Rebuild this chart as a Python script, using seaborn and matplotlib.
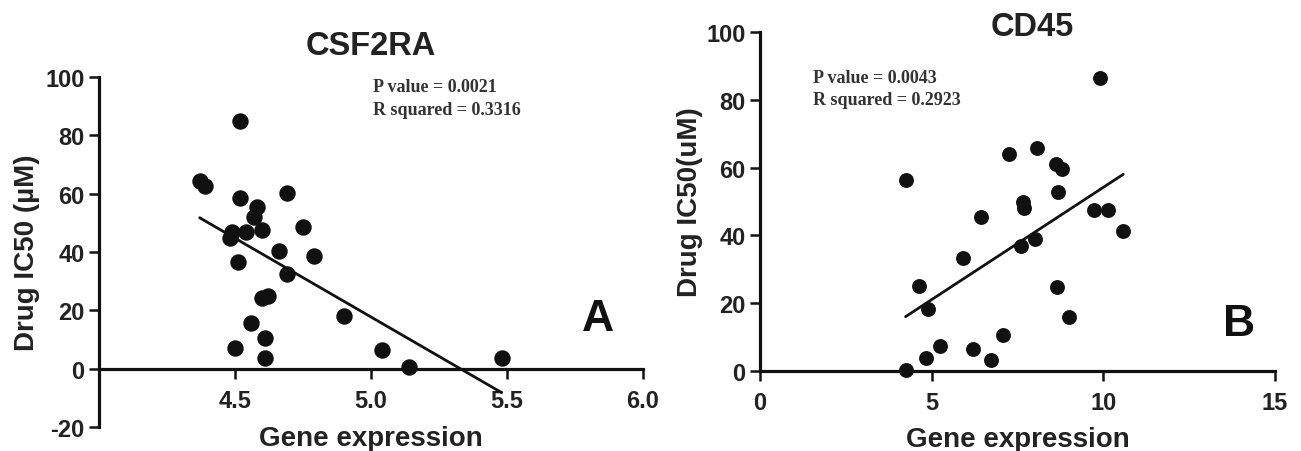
import numpy as np
import pandas as pd
import matplotlib
matplotlib.use("Agg")
import matplotlib.pyplot as plt
import seaborn as sns

# ================================
# DATA
# ================================

# Panel A: CSF2RA expression vs drug IC50
csf_x = [4.52, 4.37, 4.39, 4.52, 4.69, 4.58, 4.57, 4.75, 4.49, 4.54, 4.60, 4.48, 4.66,
         4.79, 4.51, 4.69, 4.60, 4.62, 4.56, 4.90, 4.61, 4.50, 4.61, 5.04, 5.14, 5.48]
csf_y = [85.0, 64.5, 62.8, 58.6, 60.2, 55.4, 51.9, 48.7, 47.0, 46.8, 47.4, 44.7, 40.5,
         38.5, 36.5, 32.5, 24.3, 24.8, 15.6, 17.9, 10.5, 7.1, 3.7, 6.5, 0.5, 3.5]

# Panel B: CD45 expression vs drug IC50
cd_x = [9.90, 4.26, 7.25, 8.06, 8.62, 8.80, 8.67, 7.65, 7.69, 6.43, 9.74, 10.15, 10.58,
        8.01, 7.61, 5.91, 4.63, 8.64, 4.89, 9.01, 7.07, 5.23, 6.20, 4.83, 6.74, 4.24]
cd_y = [86.4, 56.3, 63.9, 65.7, 61.1, 59.6, 52.7, 49.8, 48.2, 45.3, 47.5, 47.5, 41.3,
        38.9, 37.0, 33.2, 25.0, 24.7, 18.3, 16.0, 10.7, 7.3, 6.5, 3.8, 3.3, 0.3]

csf_xticks = [4.5, 5.0, 5.5, 6.0]
csf_yticks = [-20, 0, 20, 40, 60, 80, 100]
cd_xticks = [0, 5, 10, 15]
cd_yticks = [0, 20, 40, 60, 80, 100]

stats_a = ["P value = 0.0021", "R squared = 0.3316"]
stats_b = ["P value = 0.0043", "R squared = 0.2923"]

df_a = pd.DataFrame({"expr": csf_x, "ic50": csf_y})
df_b = pd.DataFrame({"expr": cd_x, "ic50": cd_y})

# ================================
# STYLE
# ================================
sns.set_style("ticks")
plt.rcParams['font.family'] = ['Liberation Sans', 'DejaVu Sans']
plt.rcParams['font.weight'] = 'bold'

INK = "#111111"
W, H = 1301, 452
fig = plt.figure(figsize=(W / 100, H / 100), dpi=100)


def px_rect(x0, y_top, x1, y_bot):
    # pixel box -> figure fraction rect
    return [x0 / W, 1 - y_bot / H, (x1 - x0) / W, (y_bot - y_top) / H]


ax_a = fig.add_axes(px_rect(99, 78, 643, 428))
ax_b = fig.add_axes(px_rect(760, 33, 1275, 372))


def draw_panel(ax, df, dot_size):
    sns.regplot(data=df, x="expr", y="ic50", ax=ax, ci=None, color=INK,
                scatter_kws={"s": dot_size, "alpha": 1, "linewidths": 0, "clip_on": False, "zorder": 3},
                line_kws={"lw": 2.0, "color": INK, "clip_on": False})
    for side in ["top", "right"]:
        ax.spines[side].set_visible(False)
    for side in ["left", "bottom"]:
        ax.spines[side].set_linewidth(2.3)
        ax.spines[side].set_color(INK)
    ax.tick_params(axis="both", direction="out", length=7.5, width=1.8, color=INK,
                   labelsize=17, labelcolor="#222222")
    ax.tick_params(axis="y", pad=3)
    ax.tick_params(axis="x", pad=7)


def add_stats(ax, lines, x, y0, y1):
    for txt, yy in zip(lines, [y0, y1]):
        ax.text(x, yy, txt, transform=ax.transAxes, ha="left", va="center",
                family="Liberation Serif", fontsize=13, fontweight="bold", color="#333333")


# ---- Panel A
draw_panel(ax_a, df_a, 140)
ax_a.set_xlim(4.0, 6.0)
ax_a.set_ylim(-20, 100)
ax_a.spines["bottom"].set_position(("data", 0))
ax_a.set_xticks(csf_xticks)
ax_a.set_xticklabels([f"{v:.1f}" for v in csf_xticks], fontweight="bold")
ax_a.set_yticks(csf_yticks)
ax_a.set_yticklabels([str(v) for v in csf_yticks], fontweight="bold")
ax_a.set_xlabel("Gene expression", fontsize=20, fontweight="bold", color="#222222")
ax_a.set_ylabel("Drug IC50 (\u00b5M)", fontsize=20, fontweight="bold", color="#222222")
ax_a.xaxis.set_label_coords(0.5, 0.006)
ax_a.yaxis.set_label_coords(-0.108, 0.5)
ax_a.text(0.5, 1.09, "CSF2RA", transform=ax_a.transAxes, ha="center", va="center",
          fontsize=23.5, fontweight="bold", color="#222222")
add_stats(ax_a, stats_a, 0.504, 0.973, 0.907)
ax_a.text(0.917, 0.31, "A", transform=ax_a.transAxes, ha="center", va="center",
          fontsize=32, fontweight="bold", color="#111111")

# ---- Panel B
draw_panel(ax_b, df_b, 115)
ax_b.set_xlim(0, 15)
ax_b.set_ylim(0, 100)
ax_b.set_xticks(cd_xticks)
ax_b.set_xticklabels([str(v) for v in cd_xticks], fontweight="bold")
ax_b.set_yticks(cd_yticks)
ax_b.set_yticklabels([str(v) for v in cd_yticks], fontweight="bold")
ax_b.set_xlabel("Gene expression", fontsize=20, fontweight="bold", color="#222222")
ax_b.set_ylabel("Drug IC50(uM)", fontsize=20, fontweight="bold", color="#222222")
ax_b.xaxis.set_label_coords(0.5, -0.162)
ax_b.yaxis.set_label_coords(-0.111, 0.5)
ax_b.text(0.528, 1.015, "CD45", transform=ax_b.transAxes, ha="center", va="center",
          fontsize=23.5, fontweight="bold", color="#222222")
add_stats(ax_b, stats_b, 0.103, 0.867, 0.80)
ax_b.text(0.930, 0.14, "B", transform=ax_b.transAxes, ha="center", va="center",
          fontsize=32, fontweight="bold", color="#111111")

fig.savefig("out.png", dpi=100, facecolor="white")
